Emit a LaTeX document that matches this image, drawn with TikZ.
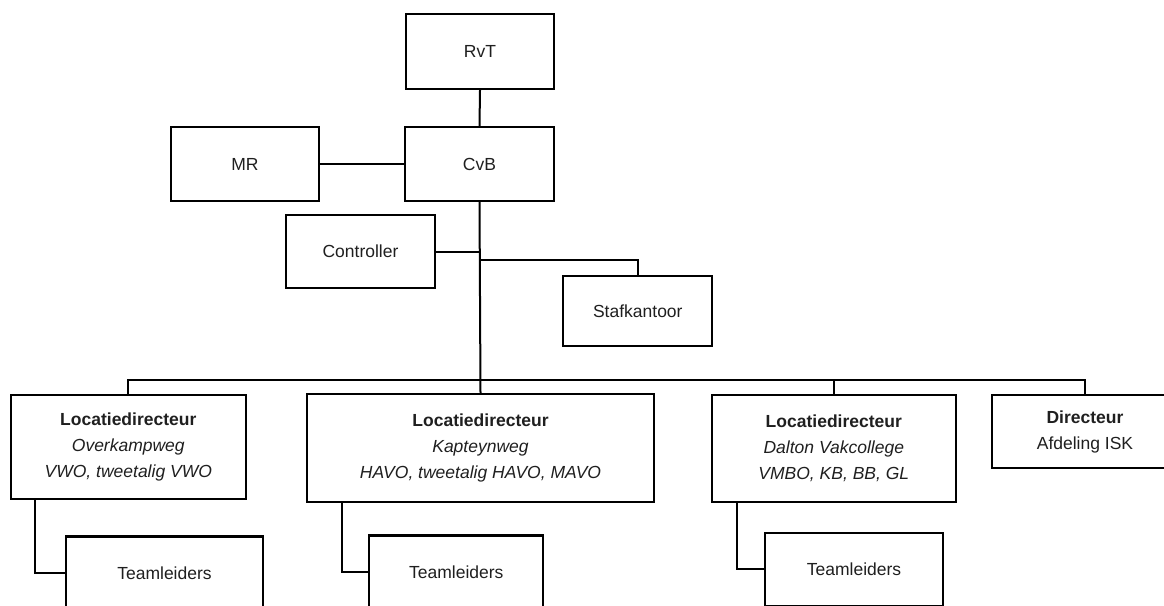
\documentclass[tikz,border=0pt]{standalone}
\usepackage{fontspec}
\setmainfont{Liberation Sans}
\begin{document}
\begin{tikzpicture}[x=1pt,y=-1pt,
  box/.style={draw=black, line width=2.2pt, inner sep=0pt, align=center,
    text=black!88, font=\fontsize{17.5}{26}\selectfont},
  conn/.style={draw=black, line width=2pt}]
\useasboundingbox (0,0) rectangle (1164,605);
\clip (0,0) rectangle (1164,605);
% top
\node[box, minimum width=148pt, minimum height=75pt] (rvt) at (480,51.5) {RvT};
\node[box, minimum width=149pt, minimum height=74pt] (cvb) at (479.5,164) {CvB};
\node[box, minimum width=148pt, minimum height=74pt] (mr) at (245,164) {MR};
\node[box, minimum width=149pt, minimum height=73.6pt] (ctrl) at (360.5,251.5) {Controller};
\node[box, minimum width=149pt, minimum height=70pt] (staf) at (637.8,311) {Stafkantoor};
% locations
\node[box, minimum width=234.7pt, minimum height=104.6pt] (l1) at (128.3,447)
  {\textbf{Locatiedirecteur}\\\textit{Overkampweg}\\\textit{VWO, tweetalig VWO}};
\node[box, minimum width=347.6pt, minimum height=107.7pt] (l2) at (480.5,447.9)
  {\textbf{Locatiedirecteur}\\\textit{Kapteynweg}\\\textit{HAVO, tweetalig HAVO, MAVO}};
\node[box, minimum width=243.7pt, minimum height=107pt] (l3) at (833.8,448.2)
  {\textbf{Locatiedirecteur}\\\textit{Dalton Vakcollege}\\\textit{VMBO, KB, BB, GL}};
\node[box, minimum width=186pt, minimum height=73.6pt] (dir) at (1085,431.5)
  {\textbf{Directeur}\\Afdeling ISK};
% team leaders
\node[box, minimum width=197.6pt, minimum height=73.6pt] (t1) at (164.5,573.3) {Teamleiders};
\node[box, minimum width=174pt, minimum height=73pt] (t2) at (456.3,572) {Teamleiders};
\node[box, minimum width=178pt, minimum height=73pt] (t3) at (854,569.3) {Teamleiders};
% helper coordinates
\coordinate (bus) at (0,380);
\coordinate (sb) at (0,260);
\coordinate (c1) at (35,0);
\coordinate (c2) at (341.7,0);
\coordinate (c3) at (736.7,0);
% connectors
\draw[conn] (rvt.south) -- (cvb.north);
\draw[conn] (mr.east) -- (cvb.west);
\draw[conn] (cvb.south) -- (l2.north);
\draw[conn] (ctrl.east) -- (ctrl.east -| cvb.south);
\draw[conn] (cvb.south |- sb) -| (staf.north);
\draw[conn] (l1.north) -- (l1.north |- bus) -- (dir.north |- bus) -- (dir.north);
\draw[conn] (l3.north |- bus) -- (l3.north);
\draw[conn] (l1.south -| c1) |- (t1.west);
\draw[conn] (l2.south -| c2) |- (t2.west);
\draw[conn] (l3.south -| c3) |- (t3.west);
\end{tikzpicture}
\end{document}
